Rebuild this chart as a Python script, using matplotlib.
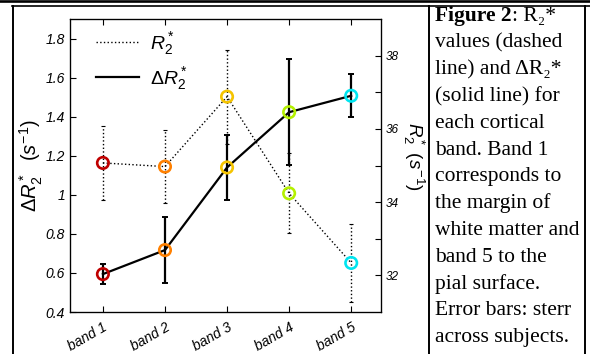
import matplotlib
matplotlib.use("Agg")
import matplotlib.pyplot as plt
from matplotlib.lines import Line2D

# data
bands = ["band 1", "band 2", "band 3", "band 4", "band 5"]
band_pos = [1, 2, 3, 4, 5]
delta_r2 = [0.594, 0.717, 1.140, 1.423, 1.507]
delta_r2_err = [0.050, 0.170, 0.165, 0.270, 0.110]
r2 = [35.07, 34.97, 36.88, 34.24, 32.34]
r2_err = [1.00, 0.99, 1.28, 1.09, 1.07]
band_colors = ["#c00000", "#ff8000", "#f5c400", "#b4f000", "#00e5f0"]

left_ticks = [0.4, 0.6, 0.8, 1.0, 1.2, 1.4, 1.6, 1.8]
left_ticklabels = ["0.4", "0.6", "0.8", "1", "1.2", "1.4", "1.6", "1.8"]
right_ticks = [32, 33, 34, 35, 36, 37, 38]
right_ticklabels = ["32", "", "34", "", "36", "", "38"]

caption_lines = [
    "values (dashed",
    "line) and \u0394R\u2082*",
    "(solid line) for",
    "each cortical",
    "band. Band 1",
    "corresponds to",
    "the margin of",
    "white matter and",
    "band 5 to the",
    "pial surface.",
    "Error bars: sterr",
    "across subjects.",
]

plt.rcParams["font.family"] = ["Liberation Sans", "DejaVu Sans"]
plt.rcParams["mathtext.fontset"] = "custom"
plt.rcParams["mathtext.rm"] = "Liberation Sans"
plt.rcParams["mathtext.it"] = "Liberation Sans:italic"
plt.rcParams["mathtext.bf"] = "Liberation Sans:bold"

W, H = 590, 354
fig = plt.figure(figsize=(W / 100, H / 100), dpi=100)


def fx(x):
    return x / W


def fy(y):
    return 1 - y / H


# table-like frame around the figure
fig.add_artist(Line2D([0, 1], [fy(1.2)] * 2, transform=fig.transFigure, color="k", lw=1.9))
fig.add_artist(Line2D([fx(12), 1], [fy(5.8)] * 2, transform=fig.transFigure, color="k", lw=1.2))
for xv in (13, 429, 585):
    fig.add_artist(Line2D([fx(xv)] * 2, [fy(5.8), 0], transform=fig.transFigure, color="k", lw=1.4))

# main axes (delta R2*)
ax = fig.add_axes([fx(70), fy(312), fx(311), 293 / H])
ax.errorbar(band_pos, delta_r2, yerr=delta_r2_err, color="k", lw=1.6,
            elinewidth=1.6, capsize=2.5, capthick=1.4, zorder=2)
ax.scatter(band_pos, delta_r2, s=68, facecolors="none", edgecolors=band_colors,
           linewidths=1.9, zorder=3)
ax.set_xlim(0.47, 5.48)
ax.set_ylim(0.4, 1.9)
ax.set_yticks(left_ticks)
ax.set_yticklabels(left_ticklabels, fontstyle="italic", fontsize=10)
ax.set_xticks(band_pos)
ax.set_xticklabels(bands, rotation=30, ha="right", rotation_mode="anchor",
                   fontstyle="italic", fontsize=10)
ax.tick_params(direction="in", length=4, top=True, right=False, width=0.8)
ax.tick_params(axis="x", pad=6)
for s in ax.spines.values():
    s.set_linewidth(0.9)
ax.set_ylabel(r"$\Delta R_2^*$  $(s^{-1})$", fontsize=14.5, va="center")
ax.yaxis.set_label_coords(-0.125, 0.5)

# twin axes (R2*)
ax2 = ax.twinx()
eb = ax2.errorbar(band_pos, r2, yerr=r2_err, color="k", ls=":", lw=1.0,
                  elinewidth=1.0, capsize=1.5, capthick=0.8, zorder=2)
eb[2][0].set_linestyle(":")
ax2.scatter(band_pos, r2, s=68, facecolors="none", edgecolors=band_colors,
            linewidths=1.9, zorder=3)
ax2.set_ylim(31, 39)
ax2.set_yticks(right_ticks)
ax2.set_yticklabels(right_ticklabels, fontstyle="italic", fontsize=8.5)
ax2.tick_params(direction="in", length=4, width=0.8)
ax2.set_ylabel(r"$R_2^*$ $(s^{-1})$", fontsize=13.5, rotation=270, va="center")
ax2.yaxis.set_label_coords(1.106, 0.53)

handles = [Line2D([], [], color="k", ls=":", lw=1.0),
           Line2D([], [], color="k", lw=1.6)]
ax2.legend(handles, [r"$R_2^*$", r"$\Delta R_2^*$"], loc="upper left",
           bbox_to_anchor=(0.084, 0.962), frameon=False, fontsize=14,
           handlelength=2.2, handletextpad=0.55, labelspacing=0.4,
           borderpad=0, borderaxespad=0)

# caption on the right
serif = ["Liberation Serif", "DejaVu Serif"]
x0 = fx(435)
base0 = 21.0
step = 26.75
t1 = fig.text(x0, fy(base0), "Figure 2", family=serif, fontweight="bold",
              fontsize=15.5, va="baseline", ha="left")
ax.annotate(": R\u2082*", xy=(1, 0), xycoords=t1, va="bottom", ha="left",
            family=serif, fontsize=15.5, annotation_clip=False)
for i, line in enumerate(caption_lines):
    fig.text(x0, fy(base0 + step * (i + 1)), line, family=serif,
             fontsize=15.5, va="baseline", ha="left")

fig.savefig("out.png", dpi=100)
